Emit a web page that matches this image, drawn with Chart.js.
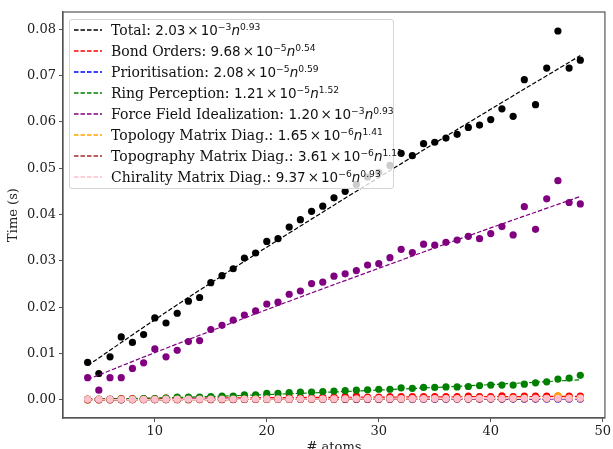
<!DOCTYPE html>
<html>
<head>
<meta charset="utf-8">
<script src="https://cdn.jsdelivr.net/npm/chart.js@4.4.1/dist/chart.umd.min.js"></script>
<style>
  body { margin: 0; background: #fff; }
  #wrap { position: relative; width: 613px; height: 449px; overflow: hidden; }
  #legend {
    position: absolute; left: 69px; top: 19px; width: 323px; height: 168px;
    border: 1px solid #d6d6d6; border-radius: 3px; background: rgba(255, 255, 255, 0.8);
    font-family: 'DejaVu Serif', serif; font-size: 14px; color: #111;
  }
  .row { position: absolute; left: 0; height: 20px; line-height: 20px; white-space: nowrap; }
  .handle { position: absolute; left: 4px; top: 8px; }
  .txt { position: absolute; left: 41px; top: 0; }
  .m { font-family: 'DejaVu Sans', sans-serif; font-size: 13.5px; }
  .x { margin: 0 2px; }
  .m sup { font-size: 68%; vertical-align: baseline; position: relative; top: -0.55em; }
</style>
</head>
<body>
<div id="wrap">
  <canvas id="chart" width="613" height="449"></canvas>
  <div id="legend"></div>
</div>
<script>
// atoms per molecule (x)
const nAtoms = [4, 5, 6, 7, 8, 9, 10, 11, 12, 13, 14, 15, 16, 17, 18, 19, 20, 21, 22, 23, 24, 25, 26,
  27, 28, 29, 30, 31, 32, 33, 34, 35, 36, 37, 38, 39, 40, 41, 42, 43, 44, 45, 46, 47, 48];

// measured times (s)
const totalTime = [0.0081, 0.0057, 0.0093, 0.0136, 0.0124, 0.0141, 0.0177, 0.0166, 0.0187, 0.0213, 0.0221,
  0.0253, 0.0268, 0.0283, 0.0306, 0.0317, 0.0342, 0.0348, 0.0373, 0.0389, 0.0407, 0.0418, 0.0436, 0.0450,
  0.0465, 0.0481, 0.0491, 0.0506, 0.0532, 0.0527, 0.0553, 0.0556, 0.0565, 0.0573, 0.0588, 0.0593, 0.0605,
  0.0628, 0.0612, 0.0691, 0.0637, 0.0716, 0.0796, 0.0716, 0.0733];
const bondTime = [0.0002, 0.0002, 0.0002, 0.0003, 0.0003, 0.0003, 0.0003, 0.0004, 0.0004, 0.0004, 0.0004,
  0.0005, 0.0004, 0.0005, 0.0005, 0.0005, 0.0005, 0.0005, 0.0006, 0.0006, 0.0005, 0.0006, 0.0006, 0.0007,
  0.0009, 0.0006, 0.0006, 0.0007, 0.0007, 0.0007, 0.0007, 0.0007, 0.0007, 0.0007, 0.0008, 0.0007, 0.0007,
  0.0009, 0.0007, 0.0008, 0.0008, 0.0008, 0.0008, 0.0008, 0.0008];
const prioTime = [0.00005, 0.00005, 0.00006, 0.00006, 0.00007, 0.00007, 0.00008, 0.00008, 0.00009, 0.00009,
  0.0001, 0.0001, 0.0001, 0.00011, 0.00011, 0.00012, 0.00012, 0.00012, 0.00013, 0.00013, 0.00013, 0.00014,
  0.00014, 0.00014, 0.00015, 0.00015, 0.00015, 0.00016, 0.00016, 0.00016, 0.00017, 0.00017, 0.00017, 0.00018,
  0.00018, 0.00018, 0.00019, 0.00018, 0.00019, 0.0002, 0.00019, 0.0002, 0.0002, 0.0002, 0.0002];
const ringTime = [0.0001, 0.0001, 0.0001, 0.0002, 0.0002, 0.0003, 0.0003, 0.0004, 0.0006, 0.0006, 0.0006,
  0.0007, 0.0008, 0.0008, 0.0011, 0.0011, 0.0014, 0.0014, 0.0016, 0.0017, 0.0017, 0.0018, 0.0019, 0.0020,
  0.0021, 0.0022, 0.0023, 0.0023, 0.0026, 0.0025, 0.0027, 0.0027, 0.0028, 0.0028, 0.0029, 0.0031, 0.0032,
  0.0032, 0.0032, 0.0034, 0.0037, 0.0039, 0.0045, 0.0047, 0.0053];
const ffTime = [0.0048, 0.0021, 0.0048, 0.0048, 0.0068, 0.0080, 0.0110, 0.0093, 0.0107, 0.0126, 0.0128,
  0.0152, 0.0161, 0.0172, 0.0183, 0.0192, 0.0207, 0.0211, 0.0228, 0.0235, 0.0251, 0.0254, 0.0267, 0.0272,
  0.0279, 0.0291, 0.0294, 0.0307, 0.0325, 0.0318, 0.0336, 0.0334, 0.0340, 0.0345, 0.0353, 0.0348, 0.0359,
  0.0374, 0.0356, 0.0417, 0.0368, 0.0434, 0.0473, 0.0426, 0.0423];
const topolTime = [0.00001, 0.00002, 0.00002, 0.00003, 0.00003, 0.00004, 0.00004, 0.00005, 0.00005, 0.00006,
  0.00007, 0.00007, 0.00008, 0.00009, 0.0001, 0.0001, 0.00011, 0.00012, 0.00013, 0.00014, 0.00015, 0.00015,
  0.00016, 0.00017, 0.00018, 0.00019, 0.0002, 0.00021, 0.00022, 0.00023, 0.00024, 0.00025, 0.00026, 0.00027,
  0.00028, 0.00029, 0.0003, 0.00031, 0.00032, 0.00033, 0.00034, 0.00036, 0.0009, 0.00037, 0.00039];
const topogTime = [0.00002, 0.00002, 0.00003, 0.00003, 0.00004, 0.00004, 0.00005, 0.00005, 0.00006, 0.00006,
  0.00007, 0.00007, 0.00008, 0.00008, 0.00009, 0.00009, 0.0001, 0.0001, 0.00011, 0.00011, 0.00012, 0.00012,
  0.00013, 0.00014, 0.00014, 0.00015, 0.00015, 0.00016, 0.00017, 0.00017, 0.00018, 0.00018, 0.00019, 0.0002,
  0.0002, 0.00021, 0.00021, 0.00022, 0.00023, 0.00023, 0.00024, 0.00025, 0.00025, 0.00026, 0.00027];
const chiralTime = [0.00012, 0.00012, 0.00013, 0.00013, 0.00014, 0.00014, 0.00015, 0.00016, 0.00016, 0.00017,
  0.00017, 0.00018, 0.00018, 0.00019, 0.0002, 0.0002, 0.00021, 0.00021, 0.00022, 0.00022, 0.00023, 0.00024,
  0.00024, 0.00025, 0.00025, 0.00026, 0.00026, 0.00027, 0.00028, 0.00028, 0.00029, 0.00029, 0.0003, 0.0003,
  0.00031, 0.00032, 0.00032, 0.00033, 0.00033, 0.00034, 0.00034, 0.00035, 0.00036, 0.00036, 0.00037];

// fitted curves, read at a few atom counts
const fitN = [4, 10, 16, 22, 30, 38, 48];
const totalFit = [0.0074, 0.0173, 0.0268, 0.0360, 0.0480, 0.0598, 0.0743];
const bondFit = [0.00021, 0.00034, 0.00043, 0.00051, 0.00061, 0.00069, 0.00078];
const prioFit = [0.00005, 0.00008, 0.00011, 0.00013, 0.00015, 0.00018, 0.0002];
const ringFit = [0.0001, 0.0004, 0.00082, 0.00133, 0.00213, 0.00305, 0.00435];
const ffFit = [0.0044, 0.0102, 0.0158, 0.0213, 0.0284, 0.0354, 0.0439];
const topolFit = [0.00001, 0.00004, 0.00008, 0.00013, 0.0002, 0.00028, 0.00039];
const topogFit = [0.00002, 0.00005, 0.00008, 0.00011, 0.00016, 0.00021, 0.00027];
const chiralFit = [0.00003, 0.00008, 0.00012, 0.00017, 0.00022, 0.00028, 0.00034];

// legend text
const seriesNames = ['Total', 'Bond Orders', 'Prioritisation', 'Ring Perception', 'Force Field Idealization',
  'Topology Matrix Diag.', 'Topography Matrix Diag.', 'Chirality Matrix Diag.'];
const fitCoef = ['2.03', '9.68', '2.08', '1.21', '1.20', '1.65', '3.61', '9.37'];
const fitExp10 = ['\u22123', '\u22125', '\u22125', '\u22125', '\u22123', '\u22126', '\u22126', '\u22126'];
const fitPow = ['0.93', '0.54', '0.59', '1.52', '0.93', '1.41', '1.11', '0.93'];
const colors = ['#000000', '#ff0000', '#0000ff', '#008000', '#800080', '#ffa500', '#a52a2a', '#ffc0cb'];

const xTicks = [10, 20, 30, 40, 50];
const yTicks = [0, 0.01, 0.02, 0.03, 0.04, 0.05, 0.06, 0.07, 0.08];

const measured = [totalTime, bondTime, prioTime, ringTime, ffTime, topolTime, topogTime, chiralTime];
const fitted = [totalFit, bondFit, prioFit, ringFit, ffFit, topolFit, topogFit, chiralFit];

const datasets = [];
measured.forEach((vals, i) => {
  datasets.push({
    label: seriesNames[i] + ' data',
    data: nAtoms.map((n, k) => ({ x: n, y: vals[k] })),
    backgroundColor: colors[i],
    borderWidth: 0,
    pointRadius: 3.6,
    showLine: false,
    order: 100 - i * 2
  });
  datasets.push({
    label: seriesNames[i],
    data: fitN.map((n, k) => ({ x: n, y: fitted[i][k] })),
    borderColor: colors[i],
    borderWidth: 1.2,
    borderDash: [4.5, 2],
    pointRadius: 0,
    showLine: true,
    fill: false,
    tension: 0.4,
    order: 99 - i * 2
  });
});

// axes box
const frame = {
  id: 'frame',
  afterDatasetsDraw(chart) {
    const { ctx, chartArea: a } = chart;
    ctx.save();
    ctx.strokeStyle = '#555';
    ctx.lineWidth = 1.2;
    ctx.strokeRect(a.left, a.top, a.right - a.left, a.bottom - a.top);
    ctx.restore();
  }
};

const tickFont = { family: "'DejaVu Serif', serif", size: 13 };

new Chart(document.getElementById('chart'), {
  type: 'scatter',
  data: { datasets },
  options: {
    responsive: false,
    animation: false,
    devicePixelRatio: 1,
    layout: { padding: { left: 0, top: 12, right: 6, bottom: 0 } },
    plugins: { legend: { display: false }, tooltip: { enabled: false } },
    scales: {
      x: {
        type: 'linear', min: 1.8, max: 50.2,
        afterBuildTicks: s => { s.ticks = xTicks.map(v => ({ value: v })); },
        afterFit: s => { s.height = 31; },
        ticks: { font: tickFont, color: '#222', padding: 2 },
        grid: { drawOnChartArea: false, drawTicks: true, tickLength: 4, color: '#555' },
        border: { color: '#555', width: 1.2 },
        title: { display: true, text: '# atoms', font: tickFont, color: '#222', padding: { top: 0, bottom: -6 } }
      },
      y: {
        min: -0.0039, max: 0.0837,
        afterBuildTicks: s => { s.ticks = yTicks.map(v => ({ value: v })); },
        afterFit: s => { s.width = 63; },
        ticks: { font: tickFont, color: '#222', padding: 3, callback: v => v.toFixed(2) },
        grid: { drawOnChartArea: false, drawTicks: true, tickLength: 4, color: '#555' },
        border: { color: '#555', width: 1.2 },
        title: { display: true, text: 'Time (s)', font: tickFont, color: '#222', padding: { top: 6, bottom: 0 } }
      }
    }
  },
  plugins: [frame]
});

// legend with the fit formulas
const legend = document.getElementById('legend');
seriesNames.forEach((name, i) => {
  const row = document.createElement('div');
  row.className = 'row';
  row.style.top = (i * 21) + 'px';
  row.innerHTML =
    '<svg class="handle" width="28" height="4"><line x1="0" y1="2" x2="28" y2="2" stroke="' + colors[i] +
    '" stroke-width="1.3" stroke-dasharray="4.5 2"/></svg>' +
    '<span class="txt">' + name + ': <span class="m">' + fitCoef[i] + '<span class="x">\u00d7</span>10<sup>' +
    fitExp10[i] + '</sup><i>n</i><sup>' + fitPow[i] + '</sup></span></span>';
  legend.appendChild(row);
});
</script>
</body>
</html>
